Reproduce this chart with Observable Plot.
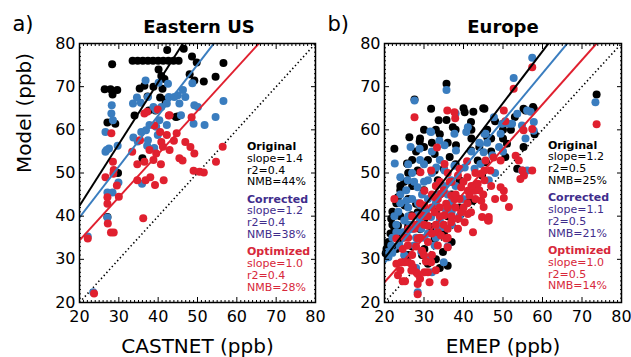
<!DOCTYPE html>
<html><head><meta charset="utf-8">
<script src="https://cdn.jsdelivr.net/npm/d3@7"></script>
<script src="https://cdn.jsdelivr.net/npm/@observablehq/plot@0.6"></script>
<style>
html,body{margin:0;padding:0;background:#fff;}
#wrap{position:relative;width:631px;height:357px;overflow:hidden;font-family:"DejaVu Sans",sans-serif;color:#000;}
.abs{position:absolute;white-space:nowrap;}
.title{font-weight:bold;font-size:18px;line-height:18px;text-align:center;width:200px;}
.tag{font-size:21px;line-height:22px;}
.ann{font-size:11px;line-height:11.8px;}
.ann .h{font-weight:bold;}
.grp + .grp{margin-top:5.5px;}
.plotbox{position:absolute;top:0;}
</style></head>
<body><div id="wrap"></div>
<script>
// ---------- data ----------
const panelTags = ["a)", "b)"];
const panelTitles = ["Eastern US", "Europe"];
const xLabels = ["CASTNET (ppb)", "EMEP (ppb)"];
const yLabel = "Model (ppb)";
const seriesNames = ["Original", "Corrected", "Optimized"];
const seriesColors = ["#000000", "#3a7dbf", "#e0202f"];
const textColors = ["#000000", "#3f2d8c", "#d7283b"];
const majorTicks = [20, 30, 40, 50, 60, 70, 80];
const oneToOne = [20, 80];

// Eastern US statistics
const eusSlopeText = ["1.4", "1.2", "1.0"];
const eusR2Text = ["0.4", "0.4", "0.4"];
const eusNmbText = ["44%", "38%", "28%"];
// fitted lines (model value at obs = 20, slope) as drawn
const eusFitAt20 = [42.4, 39.7, 34.4];
const eusFitSlope = [1.43, 1.18, 1.0];

// Europe statistics
const eurSlopeText = ["1.2", "1.1", "1.0"];
const eurR2Text = ["0.5", "0.5", "0.5"];
const eurNmbText = ["25%", "21%", "14%"];
const eurFitAt20 = [30.2, 29.1, 24.7];
const eurFitSlope = [1.2, 1.1, 1.03];

// Eastern US points [observed, model]
const eusOriginal = [[28.3,75.2],[33.5,76],[34.8,76],[36.1,76],[37.4,76],[38.7,76],[40,76],[41.3,76],[42.6,76],[43.9,76],[45.2,76],[42.3,78.5],[46.5,78.8],[48.6,77],[49.8,75.6],[56.6,75.5],[40.1,74],[40.8,72.5],[41.6,71.8],[48,72.9],[49.2,71.4],[54.6,72.3],[51.6,71.2],[26.4,69.4],[27.9,69.4],[29.6,69.2],[28.4,68.2],[35.3,69.6],[36.5,70.2],[38.8,70],[41.1,69.5],[37.3,67.7],[40.5,67.5],[42,67],[44.9,63.1],[34,63.3],[27.1,61.7],[29.1,61.4],[36,53.4],[29.8,50],[27.1,39.8],[39.3,64.5],[37.6,64.5],[41.9,66.3],[44.5,63]];
const eusCorrected = [[36.8,71.4],[40.1,70.9],[42.5,70.7],[48.7,70.8],[33.6,66.1],[34.6,67.5],[37.4,67.6],[38.8,65.3],[40.8,65.3],[42.2,66.1],[42.7,67.6],[45,68],[46.3,69.2],[46.9,67.6],[44.1,67.6],[49.2,65.7],[50.1,65.3],[56.6,66.7],[54.6,63],[51.8,61.1],[49,61.4],[45.4,66.1],[45.8,63.4],[40.3,62.2],[37.8,61.1],[35.7,59.5],[39.5,60.7],[42.2,61.1],[36.9,59.9],[35.6,66.3],[39.4,64.6],[28.2,65.7],[28.1,63.8],[28.5,62.2],[26.6,59.5],[37.4,57.6],[39.9,58.8],[33.7,58.2],[34.8,57.3],[37.2,56.3],[39,55.8],[26.6,54.9],[27.5,55.7],[26.9,55.3],[29.7,56.3],[35.9,47.5],[27.1,45.5],[28.4,45.5],[29.9,47.8],[27.1,39.7],[22.1,35.3],[23.5,22.4]];
const eusOptimized = [[36.5,63.8],[39.9,64.7],[42.9,63.4],[28.1,59.2],[35.4,57.6],[40.8,57.2],[42.2,58.8],[44.7,59.2],[46.9,57.2],[44,57.5],[49.2,54.5],[33.4,54.9],[37.8,55.3],[39.5,54.5],[41.2,56.1],[42.9,55.3],[45.4,53.4],[36.5,52.6],[38.8,53],[56.4,56.1],[54.7,52.6],[50.5,50.3],[28.5,52.6],[28.7,50.7],[48.2,56],[46.2,52.9],[48.5,62.9],[42.7,63.3],[37.2,64.2],[39,61],[40.5,59.5],[34.7,52],[40.7,52],[26.6,49],[28.6,49.8],[29.5,47.1],[27.1,44.4],[27.1,42.9],[30,44.5],[34.7,48.3],[36.8,48.3],[38,49],[41.4,48.3],[39.2,47.2],[36.2,39.5],[27.2,38.3],[28,36.2],[28.7,36.2],[22.1,34.8],[23.7,22.1],[49,50.5],[51.6,50.1]];

// Europe points [observed, model]
const eurOriginal = [[27.6,67],[35.7,70.7],[22.5,55.6],[25.9,52.1],[26.3,58.3],[28.9,57.3],[25.7,52.2],[33.7,62.2],[37.3,60.6],[40.3,64.1],[45.3,64.9],[41.9,61.8],[32.7,54.4],[28.4,50.6],[33.5,48.3],[36.5,53.7],[38.1,56.4],[41.9,55.2],[43.6,52.9],[39,48.3],[23.4,44.4],[32.7,50.6],[21.7,39.4],[22.5,37.1],[23.4,37.8],[23.8,34.8],[23,32.4],[25.1,30.9],[26.8,40.2],[28.4,40.9],[30.1,39.4],[34.8,31.7],[30.1,32.4],[32.7,34.8],[25.9,37.1],[28.4,34.8],[28,42.9],[25.1,42.5],[31.8,37.5],[41.1,43.2],[42.4,43.6],[20.3,31.4],[20.5,32.4],[22.8,32.8],[46,58.3],[51,56.8],[57.8,64.9],[55.7,64.5],[45.7,52.5],[44.7,49.4],[55.2,56],[53.6,51],[50.6,53.7],[73.7,68.2],[55.2,64.9],[57.6,65.3],[45,65],[40,65],[42.5,64.2],[31.8,64.9],[35.7,62.3],[34,59],[36,57],[30,60],[31,53],[35,51],[38,52],[27,47],[30,46],[24,47],[26,44],[34,45],[37,45],[39,42],[33,41],[36,40],[24,40],[29,37],[27,33],[35,36],[37,34],[31,29],[33,30],[26,31],[34,28],[36,28.5],[29.5,31],[48,62],[52,60],[50,58],[42,58],[44,56],[47,55],[58,59],[53,63],[46,60],[21,34],[21.5,36],[22,38],[22,41],[23,43],[24,46],[25,48],[26,50],[27,53],[28,55],[29,58],[30,56],[32,57],[24,35],[26,38],[21,33],[33,60],[38,60],[42,60],[47,58],[50,60]];
const eurCorrected = [[27.6,66.8],[35.7,69.2],[57.4,76.7],[52.7,72],[73.4,66.4],[22.6,52.2],[26.6,56],[28.9,55.6],[31.6,59.6],[38,63.8],[31.8,59.5],[33.9,57.5],[35.2,56.4],[37.7,59.1],[38.1,55.2],[40.7,59.5],[41.1,60.6],[45.3,59.1],[25.9,48.3],[28.4,46.7],[31,48.3],[33.1,51.3],[35.2,50.6],[37.7,51.7],[40.3,51.3],[42.8,51],[36.9,48.3],[33.1,47.1],[25.5,43.6],[29.3,42.5],[28.4,40.2],[23,36.3],[24.6,36.3],[23.8,33.2],[25.1,35.5],[29.3,37.1],[31.8,39.8],[33.5,37.1],[34.8,37.5],[32.7,33.2],[31.4,30.1],[29.3,31.7],[27.6,33.2],[35,29.3],[28.4,22.4],[20.8,31.7],[21.7,33.2],[36.9,43.2],[39.8,44],[35.6,41.3],[49.8,61.4],[51.5,61.4],[52.3,61.4],[54.8,61],[57.8,59.8],[45.1,54.8],[46.4,48.3],[54.8,50.6],[56.1,50.6],[44.3,52.1],[47.7,62.9],[45.6,59.1],[53.6,63.7],[56.1,64.5],[47.3,54.1],[49.4,59.1],[57.8,61.8],[55.7,58],[57,64.2],[24,45],[27,50],[30,52],[26,40],[31,44],[34,45],[38,47],[22.5,40],[27,37],[30,35],[33,35],[36,33],[25,31],[28,28],[32,27],[37,38],[39,40],[43,46],[48,50],[50,55],[42,55],[46,57],[22,35],[23,38],[23.5,41],[24,43],[25,39],[25.5,46],[26,42],[26.5,38],[27,44],[27.5,48],[28,35],[28.5,43],[29,39],[29.5,45],[30,48],[30.5,41],[31,36],[32,50],[33,43],[34,39],[35,47],[36,45],[37,41],[24,49],[21,30.5],[22,31.5],[26,52],[29,53],[32,55],[34,53],[44,57],[49,56]];
const eurOptimized = [[27.6,62.9],[35.9,64.5],[37.9,62.7],[37.7,64.1],[57.4,74.5],[52.7,69.5],[73.7,61.3],[55.2,59.9],[50.6,62],[33.3,55.9],[40.9,52.7],[47.6,53.6],[29.1,50.2],[54.9,50.6],[57.4,50.6],[50.2,64.5],[57.4,60.2],[53.2,54],[54,52.9],[49.4,52.9],[55.3,49.4],[54.4,48.6],[45.6,52.9],[46.8,50.6],[49.4,46.7],[50.2,45.9],[50.2,44.2],[45.1,42.1],[51.5,42.1],[44.7,39.8],[46.4,39.8],[46.4,39],[44.5,43.6],[42.4,36.3],[46.2,39],[41.1,40.5],[41.9,40.9],[22.5,44],[35.6,34.8],[36,32.8],[28.4,24.3],[24.6,24.9],[25.2,24.9],[35.2,24.7],[31.4,24.7],[28,27],[28.4,26.6],[31,27],[26,29.3],[26.8,29],[27.2,28.2],[23,29],[30.1,42.5],[32.7,40.9],[35.2,40.2],[36.9,38.6],[38.6,39.4],[40.3,38.6],[29.3,40.2],[27.6,37.1],[31,37.8],[33.5,36.3],[28.4,34.8],[31,34],[33.5,33.2],[25.9,33.2],[25.1,29.3],[26.8,27.4],[31.8,29.3],[30.1,27],[34.3,35.5],[36,37.1],[38.6,37.1],[39.4,40.9],[33.5,44],[35.6,42.9],[41.5,44.8],[37.7,44],[23.4,26.3],[24.2,29.3],[23,34.8],[24.6,32.4],[31.8,50.6],[45.3,50.6],[44.5,49.8],[36.5,47.9],[39.4,46.7],[32.7,44.4],[34.3,45.2],[36.9,44.8],[41.1,45.9],[42.8,45.9],[43.6,47.5],[45.3,48.3],[30.1,45.9],[38.6,49.4],[35.2,52.1],[28.4,21.9],[29.5,32],[32,31],[26,35],[27,31],[28,33],[29,35],[30,31],[30,38],[31,40],[32,36],[32,42],[33,38],[33,47],[34,40],[34,42],[35,38],[35,46],[36,42],[36,35],[37,40],[37,48],[38,42],[38,45],[39,44],[40,42],[40,48],[41,43],[42,47],[43,44],[44,46],[29,43],[30,40],[28,38],[27,40],[26,37],[25,35],[32,45],[34,48],[36,50],[39,51],[41,49],[43,50],[45,45],[47,47],[48,44],[30.5,29.5],[33,27.5],[29,25.5],[24,27.5]];

// ---------- drawing ----------
const wrap = document.getElementById("wrap");
const domain = [oneToOne[0], oneToOne[1]];
const minorTicks = d3.range(domain[0], domain[1] + 1, 1).filter(v => !majorTicks.includes(v));

function panel(cfg) {
  const {series, fitAt20, fitSlope, xLabel, showY, width, marginLeft, marginRight} = cfg;
  const span = domain[1] - domain[0];
  const marks = [];
  // 1:1 dotted line
  marks.push(Plot.link([oneToOne], {x1: d => d[0], y1: d => d[0], x2: d => d[1], y2: d => d[1],
    stroke: "black", strokeWidth: 1.6, strokeDasharray: "1.4,2.6"}));
  // dots: black, then blue, then red
  series.forEach((pts, i) => {
    marks.push(Plot.dot(pts, {x: d => d[0], y: d => d[1], r: 4, fill: seriesColors[i], stroke: "none"}));
  });
  // regression lines
  series.forEach((pts, i) => {
    marks.push(Plot.link([i], {x1: () => domain[0], x2: () => domain[1],
      y1: () => fitAt20[i], y2: () => fitAt20[i] + span * fitSlope[i],
      stroke: seriesColors[i], strokeWidth: 2, clip: true}));
  });
  const common = {label: null, stroke: "black"};
  marks.push(
    Plot.axisX(majorTicks, {...common, anchor: "bottom", tickSize: -5, tickPadding: 13, fontSize: 16, fill: "black"}),
    Plot.axisX(minorTicks, {...common, anchor: "bottom", tickSize: -2, fill: "none"}),
    Plot.axisX(majorTicks, {...common, anchor: "top", tickSize: -5, fill: "none"}),
    Plot.axisX(minorTicks, {...common, anchor: "top", tickSize: -2, fill: "none"}),
    Plot.axisY(majorTicks, {...common, anchor: "left", tickSize: -5, tickPadding: 9, fontSize: 16, fill: "black"}),
    Plot.axisY(minorTicks, {...common, anchor: "left", tickSize: -2, fill: "none"}),
    Plot.axisY(majorTicks, {...common, anchor: "right", tickSize: -5, fill: "none"}),
    Plot.axisY(minorTicks, {...common, anchor: "right", tickSize: -2, fill: "none"}),
    Plot.frame({stroke: "black", strokeWidth: 1.5}),
    Plot.text([xLabel], {text: d => d, frameAnchor: "bottom", dy: 44, fontSize: 20, lineAnchor: "middle", fill: "black"})
  );
  if (showY) {
    marks.push(Plot.text([yLabel], {text: d => d, frameAnchor: "left", dx: -55, rotate: -90, fontSize: 20, lineAnchor: "middle", fill: "black"}));
  }
  return Plot.plot({
    width, height: 357, marginTop: 43, marginBottom: 55, marginLeft, marginRight,
    x: {domain}, y: {domain},
    style: {fontFamily: "DejaVu Sans, sans-serif", fontSize: "16px", background: "transparent", overflow: "visible", color: "black"},
    marks
  });
}

const pa = panel({series: [eusOriginal, eusCorrected, eusOptimized], fitAt20: eusFitAt20, fitSlope: eusFitSlope,
  xLabel: xLabels[0], showY: true, width: 320, marginLeft: 79, marginRight: 5});
const pb = panel({series: [eurOriginal, eurCorrected, eurOptimized], fitAt20: eurFitAt20, fitSlope: eurFitSlope,
  xLabel: xLabels[1], showY: false, width: 311, marginLeft: 64, marginRight: 10});
pa.classList.add("plotbox"); pa.style.left = "0px"; pa.style.position = "absolute";
pb.classList.add("plotbox"); pb.style.left = "320px"; pb.style.position = "absolute";
wrap.appendChild(pa);
wrap.appendChild(pb);

function addDiv(cls, text, left, top) {
  const d = document.createElement("div");
  d.className = "abs " + cls;
  d.textContent = text;
  d.style.left = left + "px";
  d.style.top = top + "px";
  wrap.appendChild(d);
  return d;
}
addDiv("tag", panelTags[0], 12.5, 13);
addDiv("tag", panelTags[1], 327.5, 13);
addDiv("title", panelTitles[0], 99, 17.8);
addDiv("title", panelTitles[1], 403, 17.8);

function annotation(left, top, slopes, r2s, nmbs) {
  const box = document.createElement("div");
  box.className = "abs ann";
  box.style.left = left + "px";
  box.style.top = top + "px";
  seriesNames.forEach((name, i) => {
    const g = document.createElement("div");
    g.className = "grp";
    g.style.color = textColors[i];
    const lines = [name, "slope=" + slopes[i], "r2=" + r2s[i], "NMB=" + nmbs[i]];
    lines.forEach((t, j) => {
      const l = document.createElement("div");
      if (j === 0) l.className = "h";
      l.textContent = t;
      g.appendChild(l);
    });
    box.appendChild(g);
  });
  wrap.appendChild(box);
}
annotation(247, 141, eusSlopeText, eusR2Text, eusNmbText);
annotation(548, 139.6, eurSlopeText, eurR2Text, eurNmbText);
</script>
</body></html>
